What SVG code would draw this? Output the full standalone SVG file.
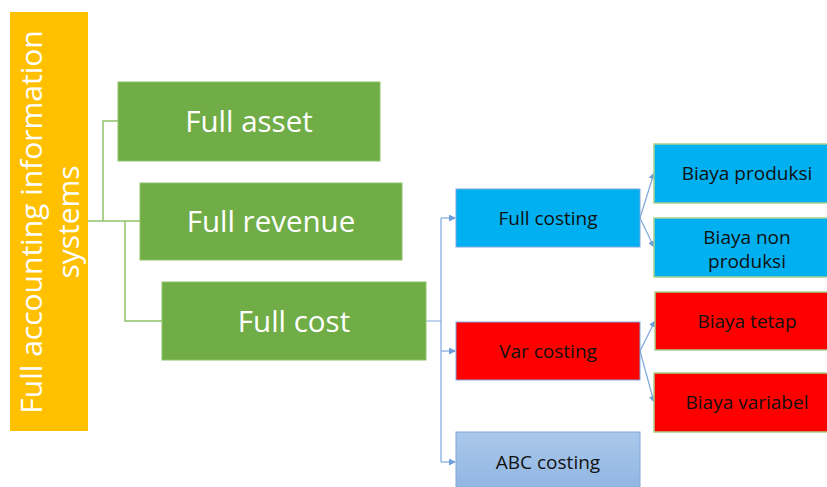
<svg xmlns="http://www.w3.org/2000/svg" width="827" height="487" viewBox="0 0 827 487">
<defs>
<style>
.g{fill:#70ad47;stroke:#8fc36a;stroke-width:1}
.gt{font-family:"Open Sans","Liberation Sans",sans-serif;font-size:29.5px;fill:#fff;text-anchor:middle}
.bt2{font-family:"Open Sans","Liberation Sans",sans-serif;font-size:19px;fill:#111;text-anchor:middle}
.cy{fill:#00b0f0;stroke:#a9d18e;stroke-width:1.5}
.rd{fill:#ff0000;stroke:#a9d18e;stroke-width:1.5}
.gl{fill:none;stroke:#8fc36a;stroke-width:1.5}
.bl{fill:none;stroke:#7fa8dc;stroke-width:1.2}
</style>
<linearGradient id="abc" x1="0" y1="0" x2="0" y2="1">
<stop offset="0" stop-color="#aac8ea"/>
<stop offset="1" stop-color="#8fb5e2"/>
</linearGradient>
<marker id="ar" markerWidth="7" markerHeight="7" refX="6" refY="3.5" orient="auto" markerUnits="userSpaceOnUse">
<path d="M0,0 L7,3.5 L0,7 Z" fill="#6f9fd8"/>
</marker>
</defs>
<rect width="827" height="487" fill="#fff"/>
<g id="connectors">
<path class="gl" d="M88,221 H140 M103,221 V121 H118 M125,221 V321 H162"/>
<path class="bl" d="M426,321 H441 M441,218 V462"/>
<path class="bl" d="M441,218 H455" marker-end="url(#ar)"/>
<path class="bl" d="M441,351 H455" marker-end="url(#ar)"/>
<path class="bl" d="M441,462 H455" marker-end="url(#ar)"/>
<path class="bl" d="M640,218 L654,173" marker-end="url(#ar)"/>
<path class="bl" d="M640,218 L654,247" marker-end="url(#ar)"/>
<path class="bl" d="M640,351 L655,321" marker-end="url(#ar)"/>
<path class="bl" d="M640,351 L654,402" marker-end="url(#ar)"/>
</g>
<g id="root">
<rect x="10" y="12" width="78" height="419" fill="#ffc000"/>
<text transform="translate(42,222) rotate(-90)" font-family="'Open Sans','Liberation Sans',sans-serif" font-size="30" fill="#fff" text-anchor="middle">Full accounting information</text>
<text transform="translate(79,222) rotate(-90)" font-family="'Open Sans','Liberation Sans',sans-serif" font-size="30" fill="#fff" text-anchor="middle">systems</text>
</g>
<g id="full-asset">
<rect class="g" x="118" y="82" width="262" height="79"/>
<text class="gt" x="249" y="132">Full asset</text>
</g>
<g id="full-revenue">
<rect class="g" x="140" y="183" width="262" height="77"/>
<text class="gt" x="271" y="232">Full revenue</text>
</g>
<g id="full-cost">
<rect class="g" x="162" y="282" width="264" height="78"/>
<text class="gt" x="294" y="332">Full cost</text>
</g>
<g id="full-costing">
<rect x="456" y="189" width="184" height="58" fill="#00b0f0" stroke="#7fa8dc" stroke-width="1"/>
<text class="bt2" x="548" y="225">Full costing</text>
</g>
<g id="var-costing">
<rect x="456" y="322" width="184" height="58" fill="#ff0000" stroke="#7fa8dc" stroke-width="1"/>
<text class="bt2" x="548" y="358">Var costing</text>
</g>
<g id="abc-costing">
<rect x="456" y="432" width="184" height="60" fill="url(#abc)" stroke="#7fa8dc" stroke-width="1"/>
<text class="bt2" x="548" y="469">ABC costing</text>
</g>
<g id="biaya-produksi">
<rect class="cy" x="654" y="144" width="190" height="59"/>
<text class="bt2" x="747" y="180">Biaya produksi</text>
</g>
<g id="biaya-non-produksi">
<rect class="cy" x="654" y="218" width="190" height="59"/>
<text class="bt2" x="747" y="244">Biaya non</text>
<text class="bt2" x="747" y="268">produksi</text>
</g>
<g id="biaya-tetap">
<rect class="rd" x="655" y="292" width="189" height="58"/>
<text class="bt2" x="747" y="328">Biaya tetap</text>
</g>
<g id="biaya-variabel">
<rect class="rd" x="654" y="373" width="190" height="59"/>
<text class="bt2" x="747" y="409">Biaya variabel</text>
</g>
</svg>
